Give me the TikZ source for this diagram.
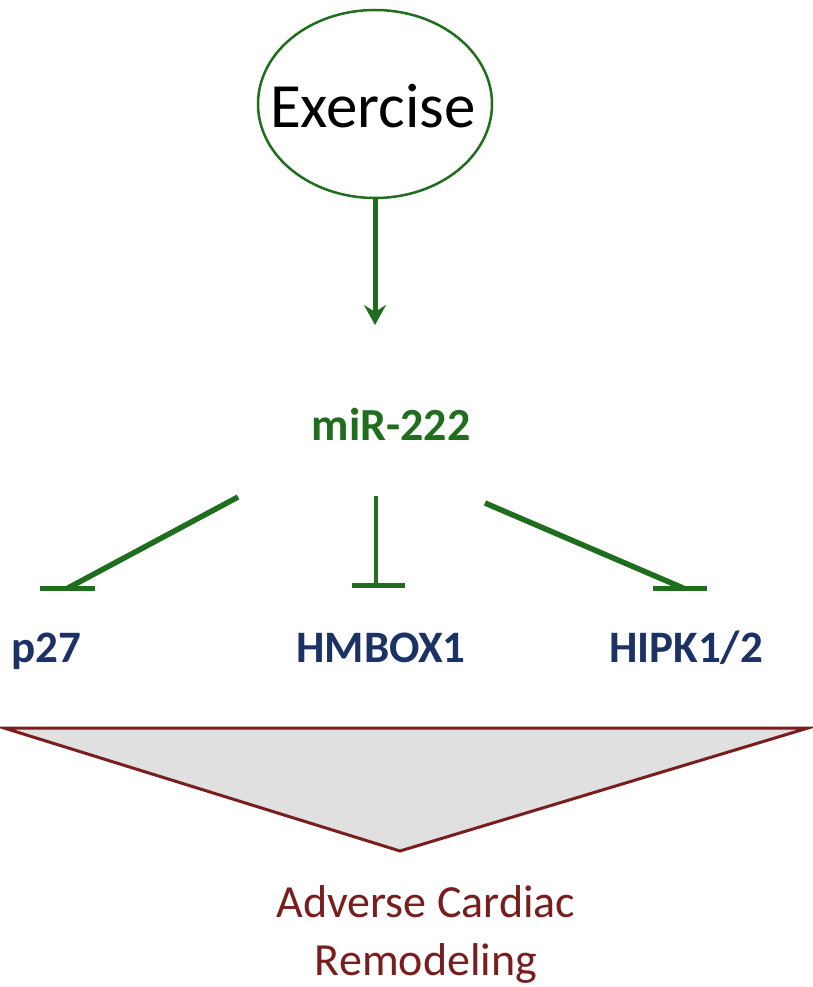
\documentclass[tikz,border=0pt]{standalone}
\usepackage{fontspec}
\setmainfont{Carlito}
\usetikzlibrary{shapes.geometric,arrows.meta}
\definecolor{exgreen}{RGB}{30,110,30}
\definecolor{navy}{RGB}{28,50,100}
\definecolor{maroon}{RGB}{120,30,30}
\definecolor{trifill}{RGB}{224,224,224}
\tikzset{
  gene/.style={font=\fontsize{45}{54}\selectfont\bfseries, text=navy, inner sep=0pt, anchor=base},
  inhib/.style={draw=exgreen, line width=5.5pt},
  inhbar/.style={draw=exgreen, line width=5pt},
}
\begin{document}
\begin{tikzpicture}[x=1pt,y=-1pt]
\useasboundingbox (0,0) rectangle (812,987);
\fill[white] (0,0) rectangle (812,987);
\node[ellipse, draw=exgreen, line width=2.5pt, minimum width=234pt, minimum height=188pt, inner sep=0pt] (ex) at (375,104) {};
\node[font=\fontsize{63}{75}\selectfont, inner sep=0pt, anchor=base] (extext) at (373,128) {Exercise};
\coordinate (tip) at (375,325);
\draw[exgreen, line width=5pt, -{Stealth[length=20pt,width=22pt,inset=7pt]}] (ex.south) -- (tip);
\node[font=\fontsize{46}{55}\selectfont\bfseries, text=exgreen, inner sep=0pt, anchor=base] (mir) at (391,440) {miR-222};
\coordinate (s1) at (238,497);
\coordinate (s2) at (376,496);
\coordinate (s3) at (485,503);
\coordinate (e1) at (68,588);
\coordinate (e2) at (376,585);
\coordinate (e3) at (683,588);
\draw[inhib] (s1) -- (e1);
\draw[inhib, line width=4pt] (s2) -- (e2);
\draw[inhib] (s3) -- (e3);
\draw[inhbar] (40,588) -- (95,588);
\draw[inhbar] (352,585) -- (405,585);
\draw[inhbar] (653,588) -- (707,588);
\node[gene] (p27) at (46,662) {p27};
\node[gene] (hmbox) at (381,662) {HMBOX1};
\node[gene] (hipk) at (686,662) {HIPK1/2};
\draw[maroon, line width=3pt, fill=trifill, line join=miter] (4,728) -- (808,728) -- (400,851) -- cycle;
\node[font=\fontsize{46}{58}\selectfont, text=maroon, align=center, inner sep=0pt] (adv) at (426,934) {Adverse Cardiac\\Remodeling};
\end{tikzpicture}
\end{document}
